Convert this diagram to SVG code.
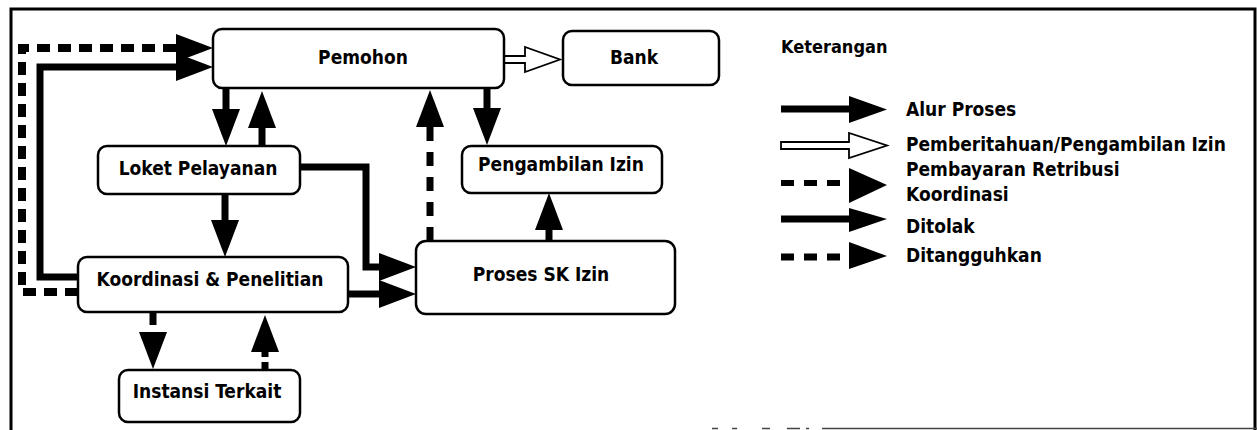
<svg xmlns="http://www.w3.org/2000/svg" width="1257" height="430" viewBox="0 0 1257 430">
  <style>
    .node rect { fill: #ffffff; stroke: #000000; stroke-width: 2.5; }
    .label { font-family: "DejaVu Sans Condensed", "DejaVu Sans", sans-serif; font-stretch: condensed; font-weight: bold; font-size: 19px; fill: #000000; }
    .mid { text-anchor: middle; }
    .solid { fill: none; stroke: #000000; stroke-width: 7; stroke-linejoin: miter; }
    .dashed { fill: none; stroke: #000000; stroke-width: 8; stroke-dasharray: 13 8; }
    .hollow { fill: #ffffff; stroke: #000000; stroke-width: 1.8; stroke-linejoin: miter; }
    .frame { fill: none; stroke: #000000; stroke-width: 3; }
  </style>
  <defs>
    <!-- filled head; base sits on the path end and points along the last segment -->
    <marker id="head" markerUnits="userSpaceOnUse" markerWidth="38" markerHeight="30" refX="0" refY="14" orient="auto" overflow="visible">
      <path d="M0,0 L37,14 L0,28 Z" fill="#000000"/>
    </marker>
  </defs>

  <rect width="1257" height="430" fill="#ffffff"/>

  <!-- outer frame -->
  <g id="frame">
    <path class="frame" d="M11,430 V9 H1255 V430"/>
    <path d="M712,428.5 H718 M732,428.5 H737 M762,428.5 H770 M787,428.5 H800 M806,428.5 H809 M822,428.5 H1257" stroke="#444444" stroke-width="1.6" fill="none"/>
  </g>

  <!-- connectors -->
  <g id="connectors">
    <!-- Koordinasi & Penelitian back to Pemohon (ditangguhkan) -->
    <path class="dashed" d="M78,292 H22 V48 H176" marker-end="url(#head)"/>
    <!-- Koordinasi & Penelitian back to Pemohon (ditolak) -->
    <path class="solid" d="M78,277 H40 V67 H176" marker-end="url(#head)"/>
    <!-- Pemohon <-> Loket Pelayanan -->
    <path class="solid" d="M226,88 V109" marker-end="url(#head)"/>
    <path class="solid" d="M262,146 V128" marker-end="url(#head)"/>
    <!-- Loket Pelayanan -> Koordinasi & Penelitian -->
    <path class="solid" d="M225,194 V220" marker-end="url(#head)"/>
    <!-- Loket Pelayanan -> Proses SK Izin -->
    <path class="solid" d="M300,167 H366 V267 H379" marker-end="url(#head)"/>
    <!-- Koordinasi & Penelitian -> Proses SK Izin -->
    <path class="solid" d="M348,294 H379" marker-end="url(#head)"/>
    <!-- Proses SK Izin -> Pemohon (pembayaran retribusi) -->
    <path class="dashed" d="M430,241 V127" style="stroke-width:7; stroke-dasharray:14 11" marker-end="url(#head)"/>
    <!-- Pemohon -> Bank (pemberitahuan) -->
    <path class="hollow" d="M504,56 H525 V47 L560,59.5 L525,72 V63 H504 Z"/>
    <!-- Pemohon -> Pengambilan Izin -->
    <path class="solid" d="M487,88 V108" marker-end="url(#head)"/>
    <!-- Proses SK Izin -> Pengambilan Izin -->
    <path class="solid" d="M549,241 V230" marker-end="url(#head)"/>
    <!-- Koordinasi & Penelitian <-> Instansi Terkait -->
    <path class="dashed" d="M153,312 V332" style="stroke-width:7" marker-end="url(#head)"/>
    <path class="dashed" d="M265,370 V352" style="stroke-width:7; stroke-dasharray:8 5" marker-end="url(#head)"/>
  </g>

  <!-- nodes -->
  <g id="pemohon" class="node">
    <rect x="213" y="29" width="291" height="59" rx="9"/>
    <text class="label mid" x="363" y="64">Pemohon</text>
  </g>
  <g id="bank" class="node">
    <rect x="563" y="31" width="156" height="54" rx="9"/>
    <text class="label mid" x="634" y="64">Bank</text>
  </g>
  <g id="loket-pelayanan" class="node">
    <rect x="98" y="146" width="202" height="48" rx="9"/>
    <text class="label mid" x="198" y="175">Loket Pelayanan</text>
  </g>
  <g id="pengambilan-izin" class="node">
    <rect x="462" y="146" width="200" height="47" rx="9"/>
    <text class="label mid" x="561" y="171">Pengambilan Izin</text>
  </g>
  <g id="koordinasi-penelitian" class="node">
    <rect x="78" y="257" width="270" height="55" rx="9"/>
    <text class="label mid" x="210" y="286">Koordinasi &amp; Penelitian</text>
  </g>
  <g id="proses-sk-izin" class="node">
    <rect x="416" y="241" width="259" height="73" rx="10"/>
    <text class="label mid" x="541" y="281">Proses SK Izin</text>
  </g>
  <g id="instansi-terkait" class="node">
    <rect x="119" y="370" width="181" height="52" rx="9"/>
    <text class="label mid" x="207" y="398">Instansi Terkait</text>
  </g>

  <!-- legend -->
  <g id="legend">
    <text class="label" x="781" y="53" style="font-size:18px">Keterangan</text>

    <line x1="781" y1="109" x2="850" y2="109" stroke="#000000" stroke-width="7"/>
    <path d="M849,96 L887,109.5 L849,123 Z" fill="#000000"/>
    <text class="label" x="906" y="116">Alur Proses</text>

    <path class="hollow" d="M781,142 H849 V133 L887,145.5 L849,158 V149 H781 Z"/>
    <text class="label" x="906" y="151">Pemberitahuan/Pengambilan Izin</text>

    <line x1="781" y1="183" x2="840" y2="183" stroke="#000000" stroke-width="6" stroke-dasharray="13 10"/>
    <path d="M849,168 L887,185 L849,203 Z" fill="#000000"/>
    <text class="label" x="906" y="176">Pembayaran Retribusi</text>
    <text class="label" x="906" y="201">Koordinasi</text>

    <line x1="781" y1="219" x2="850" y2="219" stroke="#000000" stroke-width="7"/>
    <path d="M849,208 L887,219 L849,232 Z" fill="#000000"/>
    <text class="label" x="906" y="233">Ditolak</text>

    <line x1="781" y1="257" x2="840" y2="257" stroke="#000000" stroke-width="7" stroke-dasharray="13 10"/>
    <path d="M849,242 L887,256 L849,269 Z" fill="#000000"/>
    <text class="label" x="906" y="262">Ditangguhkan</text>
  </g>
</svg>
